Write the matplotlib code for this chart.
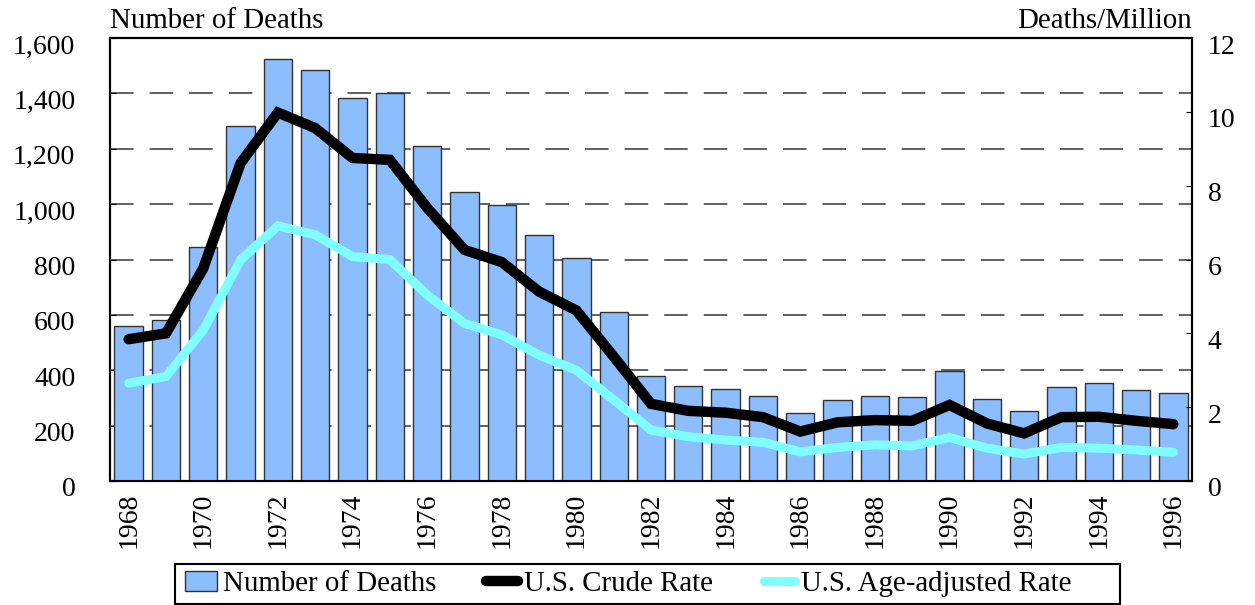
import matplotlib
matplotlib.use("Agg")
import matplotlib.pyplot as plt
from matplotlib.transforms import ScaledTranslation
from matplotlib.patches import Patch, Rectangle
from matplotlib.lines import Line2D

years = list(range(1968, 1997))
deaths = [560, 583, 845, 1282, 1524, 1485, 1383, 1400, 1210, 1044, 997, 890,
          805, 610, 379, 344, 332, 308, 244, 294, 306, 303, 397, 297, 252,
          341, 353, 330, 318]
crude_rate = [3.84, 4.0, 5.76, 8.61, 9.98, 9.56, 8.75, 8.70, 7.4, 6.26, 5.93,
              5.13, 4.62, 3.37, 2.09, 1.90, 1.85, 1.73, 1.34, 1.59, 1.65, 1.63,
              2.06, 1.56, 1.29, 1.73, 1.74, 1.63, 1.54]
age_adj_rate = [2.65, 2.83, 4.09, 5.99, 6.91, 6.67, 6.08, 6.0, 5.04, 4.27, 3.96,
                3.41, 3.0, 2.2, 1.38, 1.2, 1.11, 1.05, 0.79, 0.91, 0.98, 0.95,
                1.18, 0.89, 0.73, 0.91, 0.89, 0.84, 0.78]
left_ticks = [0, 200, 400, 600, 800, 1000, 1200, 1400, 1600]
right_ticks = [0, 2, 4, 6, 8, 10, 12]
year_ticks = years[::2]

plt.rcParams['font.family'] = ['Liberation Serif', 'DejaVu Serif']
plt.rcParams['lines.scale_dashes'] = False
FS = 20
FS_T = 20.8

fig = plt.figure(figsize=(12.55, 6.05), dpi=100)
W, H = 1255, 605
L, R, T, B = 110, 1192, 38, 481
ax = fig.add_axes([L / W, 1 - B / H, (R - L) / W, (B - T) / H])
ax2 = ax.twinx()

ax.bar(years, deaths, width=0.76, color='#8BBDFF', edgecolor='#333333',
       linewidth=1.0, zorder=3)
for v in left_ticks[1:-1]:
    ax.axhline(v, color='#555555', linewidth=1.3, linestyle=(0, (17, 11.5)), zorder=1)

ax2.plot(years, age_adj_rate, color='#80FFFF', linewidth=6.5,
         solid_capstyle='round', solid_joinstyle='miter')
ax2.plot(years, crude_rate, color='black', linewidth=7.5,
         solid_capstyle='round', solid_joinstyle='miter')

ax.set_xlim(1967.5, 1996.5)
ax.set_ylim(0, 1600)
ax2.set_ylim(0, 12)

ax.set_yticks(left_ticks)
ax.set_yticklabels([f"{v:,}" for v in left_ticks])
ax2.set_yticks(right_ticks)
ax2.set_yticklabels([str(v) for v in right_ticks])
ax.set_xticks(year_ticks)
ax.set_xticklabels([str(y) for y in year_ticks], rotation=90)

ax.tick_params(axis='y', direction='in', length=4, labelsize=FS, pad=25)
ax2.tick_params(axis='y', direction='in', length=4, labelsize=FS, pad=11.5)
ax.tick_params(axis='x', length=0, labelsize=FS, pad=8.6)

off = ScaledTranslation(0, -6 / 100, fig.dpi_scale_trans)
for lab in ax.get_yticklabels() + ax2.get_yticklabels():
    lab.set_transform(lab.get_transform() + off)

for a in (ax, ax2):
    for s in a.spines.values():
        s.set_linewidth(1.5)
        s.set_color('black')

fig.text(L / W, 1 - 28 / H, "Number of Deaths", fontsize=FS_T, ha='left', va='baseline')
fig.text(R / W, 1 - 28 / H, "Deaths/Million", fontsize=FS_T, ha='right', va='baseline')

# legend frame
fig.add_artist(Rectangle((175 / W, 1 - 604 / H), (1120 - 175) / W, 40 / H,
                         transform=fig.transFigure, facecolor='white',
                         edgecolor='black', linewidth=1.5))

handles = [Patch(facecolor='#8BBDFF', edgecolor='#333333', linewidth=1.0),
           Line2D([], [], color='black', linewidth=7.5, solid_capstyle='round'),
           Line2D([], [], color='#80FFFF', linewidth=6.5, solid_capstyle='round')]
labels = ["Number of Deaths", "U.S. Crude Rate", "U.S. Age-adjusted Rate"]
leg = fig.legend(handles, labels, loc='center left', ncol=3,
                 bbox_to_anchor=(185 / W, 1 - 584 / H), fontsize=FS_T,
                 frameon=False, handlelength=1.1, handletextpad=0.2,
                 columnspacing=1.75, borderpad=0, borderaxespad=0,
                 handleheight=0.7)
leg.set_zorder(5)

fig.savefig("out.png", dpi=100)
